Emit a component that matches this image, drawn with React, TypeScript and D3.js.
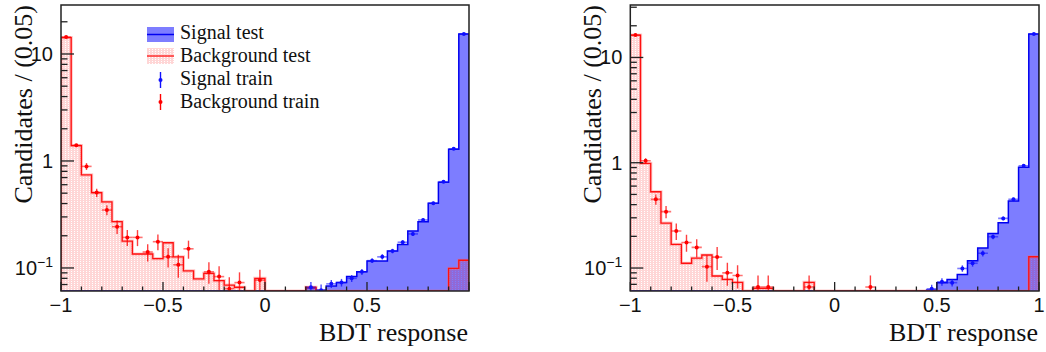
import React from "react";
import * as d3 from "d3";

// ---------- data (40 bins of width 0.05 on [-1, 1]) ----------
const xMin = -1;
const xMax = 1;
const nBins = 40;

const xTickLabelsLeft = ["\u22121", "\u22120.5", "0", "0.5"];
const xTickLabelsRight = ["\u22121", "\u22120.5", "0", "0.5", "1"];
const xMajorTicks = [-1, -0.5, 0, 0.5, 1];
const yMajorTicks = [0.1, 1, 10];

const legendLabels = ["Signal test", "Background test", "Signal train", "Background train"];

// Left panel
const bgTestL = [14.2, 1.39, 0.74, 0.506, 0.415, 0.271, 0.178, 0.135, 0.135, 0.122,
  0.172, 0.127, 0.094, 0.079, 0.089, 0.076, 0.069, 0.066, 0, 0.08,
  0, 0, 0, 0, 0.066, 0, 0, 0, 0, 0,
  0, 0, 0, 0, 0, 0, 0, 0, 0.099, 0.118];
const sigTestL = [0, 0, 0, 0, 0, 0, 0, 0, 0, 0,
  0, 0, 0, 0, 0, 0, 0, 0, 0, 0,
  0, 0, 0, 0, 0.065, 0.062, 0.068, 0.073, 0.083, 0.092,
  0.116, 0.116, 0.144, 0.166, 0.222, 0.271, 0.403, 0.632, 1.286, 15.4];
const bgTrainL = [14.4, 1.4, 0.89, 0.506, 0.348, 0.243, 0.193, 0.193, 0.141, 0.176,
  0.127, 0.107, 0.151, null, 0.092, 0.083, 0.064, 0.073, null, 0.077,
  null, null, null, null, null, null, null, null, null, null,
  null, null, null, null, null, null, null, null, null, null];
const bgTrainErrL = [0.2, 0.04, 0.065, 0.045, 0.037, 0.035, 0.033, 0.033, 0.026, 0.03,
  0.026, 0.026, 0.029, 0, 0.021, 0.021, 0.018, 0.018, 0, 0.019,
  0, 0, 0, 0, 0, 0, 0, 0, 0, 0,
  0, 0, 0, 0, 0, 0, 0, 0, 0, 0];
const sigTrainL = [null, null, null, null, null, null, null, null, null, null,
  null, null, null, null, null, null, null, null, null, null,
  null, null, null, null, 0.066, 0.062, 0.071, 0.073, 0.08, 0.092,
  0.117, 0.127, 0.144, 0.174, 0.208, 0.281, 0.403, 0.64, 1.3, 15.4];
const sigTrainErrL = [0, 0, 0, 0, 0, 0, 0, 0, 0, 0,
  0, 0, 0, 0, 0, 0, 0, 0, 0, 0,
  0, 0, 0, 0, 0.008, 0.008, 0.006, 0.006, 0.006, 0.006,
  0.006, 0.007, 0.007, 0.008, 0.009, 0.01, 0.012, 0.015, 0.025, 0.15];

// Right panel
const bgTestR = [16.3, 0.987, 0.53, 0.267, 0.168, 0.111, 0.124, 0.133, 0.084, 0.078,
  0.073, 0, 0.064, 0.064, 0, 0, 0, 0.073, 0, 0,
  0, 0, 0, 0, 0, 0, 0, 0, 0, 0,
  0, 0, 0, 0, 0, 0, 0, 0, 0, 0.128];
const sigTestR = [0, 0, 0, 0, 0, 0, 0, 0, 0, 0,
  0, 0, 0, 0, 0, 0, 0, 0, 0, 0,
  0, 0, 0, 0, 0, 0, 0, 0, 0, 0.062,
  0.0726, 0.078, 0.087, 0.117, 0.155, 0.213, 0.269, 0.433, 0.904, 16.7];
const bgTrainR = [16.3, 1.045, 0.449, 0.343, 0.225, 0.175, 0.157, 0.103, 0.127, 0.09,
  0.085, null, 0.066, 0.066, null, null, null, 0.066, null, null,
  null, null, null, 0.066, null, null, null, null, null, null,
  null, null, null, null, null, null, null, null, null, null];
const bgTrainErrR = [0.2, 0.06, 0.05, 0.046, 0.04, 0.032, 0.031, 0.029, 0.031, 0.022,
  0.021, 0, 0.019, 0.019, 0, 0, 0, 0.019, 0, 0,
  0, 0, 0, 0.019, 0, 0, 0, 0, 0, 0,
  0, 0, 0, 0, 0, 0, 0, 0, 0, 0];
const sigTrainR = [null, null, null, null, null, null, null, null, null, null,
  null, null, null, null, null, null, null, null, null, null,
  null, null, null, null, null, null, null, null, null, 0.0635,
  0.074, 0.0726, 0.099, 0.111, 0.138, 0.198, 0.296, 0.449, 0.937, 16.7];
const sigTrainErrR = [0, 0, 0, 0, 0, 0, 0, 0, 0, 0,
  0, 0, 0, 0, 0, 0, 0, 0, 0, 0,
  0, 0, 0, 0, 0, 0, 0, 0, 0, 0.006,
  0.006, 0.006, 0.007, 0.008, 0.009, 0.01, 0.012, 0.015, 0.025, 0.15];

// ---------- style ----------
const SERIF = "'Liberation Serif', 'Times New Roman', serif";
const SANS = "'Liberation Sans', Arial, sans-serif";
const BLUE_FILL = "#7d7dff";
const BLUE_LINE = "#0000f0";
const RED_LINE = "#ff1010";
const AXIS = "#222";

type PanelProps = {
  left: number;
  right: number;
  top: number;
  bottom: number;
  yDomain: [number, number];
  bgTest: number[];
  sigTest: number[];
  bgTrain: (number | null)[];
  bgTrainErr: number[];
  sigTrain: (number | null)[];
  sigTrainErr: number[];
  xLabels: string[];
  legend: boolean;
  id: string;
};

const edges = d3.range(nBins + 1).map((i) => xMin + ((xMax - xMin) * i) / nBins);

function Panel(p: PanelProps) {
  const x = d3.scaleLinear().domain([xMin, xMax]).range([p.left, p.right]);
  const y = d3.scaleLog().domain(p.yDomain).range([p.bottom, p.top]).clamp(true);
  const yv = (v: number) => (v > 0 ? y(v) : p.bottom);

  const area = d3
    .area<number>()
    .x((_, i) => x(edges[i]))
    .y0(p.bottom)
    .y1((d) => yv(d))
    .curve(d3.curveStepAfter);
  const line = d3
    .line<number>()
    .x((_, i) => x(edges[i]))
    .y((d) => yv(d))
    .curve(d3.curveStepAfter);
  const ext = (a: number[]) => [...a, a[a.length - 1]];
  const stepLine = (a: number[]) =>
    `M${x(xMin)},${p.bottom}` + (line(ext(a)) || "").replace(/^M/, "L") + `L${x(xMax)},${p.bottom}`;

  const minorX = d3.range(-10, 11).map((k) => k / 10).filter((v) => !xMajorTicks.includes(v));
  const [lo, hi] = p.yDomain;
  const minorY: number[] = [];
  for (let e = Math.floor(Math.log10(lo)); e <= Math.ceil(Math.log10(hi)); e++) {
    for (let m = 2; m <= 9; m++) {
      const v = m * Math.pow(10, e);
      if (v >= lo && v <= hi) minorY.push(v);
    }
  }

  const points = (vals: (number | null)[], errs: number[], color: string, key: string) =>
    vals.map((v, i) => {
      if (v == null) return null;
      const cx = x((edges[i] + edges[i + 1]) / 2);
      const cy = y(v);
      const yHi = y(v + errs[i]);
      const yLo = v - errs[i] > 0 ? y(v - errs[i]) : p.bottom;
      return (
        <g key={key + i}>
          <line x1={x(edges[i])} x2={x(edges[i + 1])} y1={cy} y2={cy} stroke={color} strokeOpacity={0.55} strokeWidth={1.6} />
          <line x1={cx} x2={cx} y1={yLo} y2={yHi} stroke={color} strokeOpacity={0.75} strokeWidth={1.4} />
          <circle cx={cx} cy={cy} r={2} fill={color} />
        </g>
      );
    });

  const pat = `bgpat-${p.id}`;
  const clip = `clip-${p.id}`;

  return (
    <g>
      <defs>
        <pattern id={pat} width={3} height={2} patternUnits="userSpaceOnUse">
          <rect x={0} y={0} width={2} height={2} fill="#ff0000" fillOpacity={0.16} />
          <rect x={2} y={0} width={1} height={1} fill="#ff0000" fillOpacity={0.16} />
        </pattern>
        <clipPath id={clip}>
          <rect x={p.left} y={p.top} width={p.right - p.left} height={p.bottom - p.top} />
        </clipPath>
      </defs>

      <g clipPath={`url(#${clip})`}>
        {/* signal test */}
        <path d={area(ext(p.sigTest)) || ""} fill={BLUE_FILL} />
        <path d={stepLine(p.sigTest)} fill="none" stroke={BLUE_LINE} strokeWidth={1.5} />
        {/* background test */}
        <path d={area(ext(p.bgTest)) || ""} fill={`url(#${pat})`} />
        <path d={stepLine(p.bgTest)} fill="none" stroke="#ff6060" strokeOpacity={0.35} strokeWidth={3.2} />
        <path d={stepLine(p.bgTest)} fill="none" stroke={RED_LINE} strokeWidth={1.3} />
        {/* train points */}
        {points(p.sigTrain, p.sigTrainErr, "#1010ff", "s")}
        {points(p.bgTrain, p.bgTrainErr, "#ff0000", "b")}
      </g>

      {/* frame */}
      <rect x={p.left} y={p.top} width={p.right - p.left} height={p.bottom - p.top} fill="none" stroke={AXIS} strokeWidth={1.5} />

      {/* x ticks */}
      {xMajorTicks.map((t) => (
        <line key={"xM" + t} x1={x(t)} x2={x(t)} y1={p.bottom} y2={p.bottom - 9} stroke={AXIS} strokeWidth={1.3} />
      ))}
      {minorX.map((t) => (
        <line key={"xm" + t} x1={x(t)} x2={x(t)} y1={p.bottom} y2={p.bottom - 4.5} stroke={AXIS} strokeWidth={1.3} />
      ))}
      {p.xLabels.map((lab, i) => (
        <text key={"xl" + i} x={x(xMajorTicks[i])} y={p.bottom + 21} textAnchor="middle" fontFamily={SANS} fontSize={20} fill="#111">
          {lab}
        </text>
      ))}
      <text x={p.right - 1} y={p.bottom + 50} textAnchor="end" fontFamily={SERIF} fontSize={26} fill="#111">
        BDT response
      </text>

      {/* y ticks */}
      {yMajorTicks.map((t) => (
        <line key={"yM" + t} x1={p.left} x2={p.left + 13} y1={y(t)} y2={y(t)} stroke={AXIS} strokeWidth={1.3} />
      ))}
      {minorY.map((t) => (
        <line key={"ym" + t} x1={p.left} x2={p.left + 6.5} y1={y(t)} y2={y(t)} stroke={AXIS} strokeWidth={1.3} />
      ))}
      <text x={p.left - 8} y={y(10) + 7} textAnchor="end" fontFamily={SANS} fontSize={20} fill="#111">10</text>
      <text x={p.left - 8} y={y(1) + 7} textAnchor="end" fontFamily={SANS} fontSize={20} fill="#111">1</text>
      <text x={p.left - 8} y={y(0.1) + 7} textAnchor="end" fontFamily={SANS} fontSize={20} fill="#111">
        10<tspan dy={-8} fontSize={14}>{"\u22121"}</tspan>
      </text>
      <text
        transform={`translate(${p.left - 29},${p.top}) rotate(-90)`}
        textAnchor="end"
        fontFamily={SERIF}
        fontSize={26}
        fill="#111"
      >
        Candidates / (0.05)
      </text>

      {p.legend && (
        <g>
          <rect x={147} y={27} width={27} height={15} fill={BLUE_FILL} />
          <line x1={147} x2={174} y1={34.5} y2={34.5} stroke={BLUE_LINE} strokeWidth={1.5} />
          <rect x={147} y={48} width={27} height={16} fill={`url(#${pat})`} />
          <line x1={147} x2={174} y1={56} y2={56} stroke={RED_LINE} strokeWidth={1.3} />
          <line x1={160.5} x2={160.5} y1={72} y2={88} stroke="#1010ff" strokeWidth={1.4} />
          <circle cx={160.5} cy={80} r={2} fill="#1010ff" />
          <line x1={160.5} x2={160.5} y1={94} y2={110} stroke="#ff0000" strokeWidth={1.4} />
          <circle cx={160.5} cy={102} r={2} fill="#ff0000" />
          {legendLabels.map((l, i) => (
            <text key={l} x={180} y={39 + i * 23} fontFamily={SERIF} fontSize={20} fill="#111">
              {l}
            </text>
          ))}
        </g>
      )}
    </g>
  );
}

export default function App() {
  return (
    <svg width={1046} height={352} style={{ position: "absolute", left: 0, top: 0, background: "#fff" }}>
      <rect x={0} y={0} width={1046} height={352} fill="#fff" />
      <Panel
        id="L"
        left={61}
        right={469}
        top={5}
        bottom={291}
        yDomain={[0.0609, 28.7]}
        bgTest={bgTestL}
        sigTest={sigTestL}
        bgTrain={bgTrainL}
        bgTrainErr={bgTrainErrL}
        sigTrain={sigTrainL}
        sigTrainErr={sigTrainErrL}
        xLabels={xTickLabelsLeft}
        legend={true}
      />
      <Panel
        id="R"
        left={630.3}
        right={1039}
        top={5}
        bottom={291}
        yDomain={[0.0605, 31.5]}
        bgTest={bgTestR}
        sigTest={sigTestR}
        bgTrain={bgTrainR}
        bgTrainErr={bgTrainErrR}
        sigTrain={sigTrainR}
        sigTrainErr={sigTrainErrR}
        xLabels={xTickLabelsRight}
        legend={false}
      />
    </svg>
  );
}
